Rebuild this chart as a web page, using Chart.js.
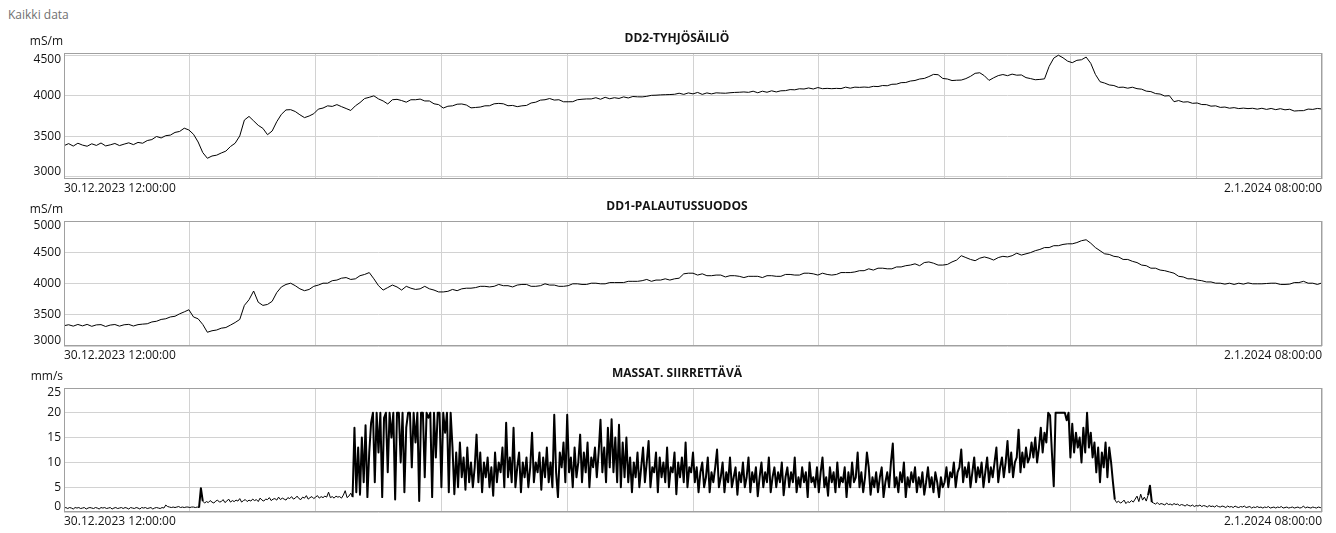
<!DOCTYPE html>
<html>
<head>
<meta charset="utf-8">
<script src="https://cdn.jsdelivr.net/npm/chart.js@4"></script>
<style>
  body { margin: 0; background: #fff; overflow: hidden; width: 1336px; height: 533px; }
  #caption { position: absolute; left: 8px; top: 6px; font: 12px "Open Sans", sans-serif; color: #707070; }
  .panel { position: absolute; left: 0; width: 1336px; }
</style>
</head>
<body>
<div id="caption">Kaikki data</div>
<div class="panel" id="p1" style="top:23px;height:176px"><canvas id="c1"></canvas></div>
<div class="panel" id="p2" style="top:191px;height:175px"><canvas id="c2"></canvas></div>
<div class="panel" id="p3" style="top:358px;height:174px"><canvas id="c3"></canvas></div>
<script>
// time axis: hours from 30.12.2023 12:00 to 2.1.2024 08:00
const xGrid = [0, 6.8, 13.6, 20.4, 27.2, 34, 40.8, 47.6, 54.4, 61.2, 68];
const xStartLabel = "30.12.2023 12:00:00";
const xEndLabel = "2.1.2024 08:00:00";

const ddStep = 0.25;   // hours between conductivity samples
const massStep = 0.1;  // hours between speed samples

const dd2Ticks = [3000, 3500, 4000, 4500];
const dd1Ticks = [3000, 3500, 4000, 4500, 5000];
const massTicks = [0, 5, 10, 15, 20, 25];

const dd2Values = [
  3385,3410,3380,3415,3392,3378,3408,3388,3418,3382,
  3395,3412,3386,3404,3420,3398,3425,3415,3448,3460,
  3498,3480,3508,3515,3548,3560,3600,3578,3525,3430,
  3300,3230,3258,3268,3295,3318,3375,3415,3505,3700,
  3745,3690,3635,3598,3520,3565,3680,3770,3825,3828,
  3805,3765,3730,3750,3778,3835,3848,3875,3868,3890,
  3865,3842,3818,3875,3915,3965,3980,3998,3960,3935,
  3898,3950,3955,3940,3920,3950,3950,3958,3935,3935,
  3900,3890,3848,3870,3875,3895,3898,3885,3850,3855,
  3860,3875,3876,3900,3905,3900,3876,3880,3865,3875,
  3880,3910,3920,3945,3950,3965,3946,3950,3925,3925,
  3926,3950,3956,3960,3960,3975,3956,3980,3962,3975,
  3966,3985,3972,3990,3986,3985,3992,4004,4006,4010,
  4012,4014,4017,4030,4016,4034,4022,4040,4016,4034,
  4022,4035,4032,4030,4036,4040,4042,4046,4041,4055,
  4036,4055,4042,4060,4046,4060,4062,4075,4072,4085,
  4082,4095,4082,4100,4086,4090,4086,4090,4087,4105,
  4092,4105,4102,4106,4102,4115,4112,4125,4122,4140,
  4142,4160,4162,4180,4187,4205,4212,4235,4262,4258,
  4212,4205,4186,4190,4192,4210,4238,4275,4282,4245,
  4188,4220,4247,4260,4246,4265,4252,4255,4222,4210,
  4196,4200,4207,4360,4462,4498,4466,4425,4406,4435,
  4442,4475,4398,4262,4172,4155,4132,4125,4102,4105,
  4092,4104,4086,4080,4056,4050,4026,4020,3996,4000,
  3926,3940,3921,3925,3906,3910,3891,3890,3871,3875,
  3856,3860,3846,3853,3841,3847,3841,3845,3834,3845,
  3831,3843,3828,3840,3826,3833,3811,3815,3816,3835,
  3831,3843,3836
];

const dd1Values = [
  3325,3340,3318,3345,3322,3346,3315,3338,3342,3312,
  3335,3344,3318,3340,3346,3320,3342,3350,3356,3385,
  3396,3425,3436,3465,3476,3515,3546,3580,3465,3435,
  3345,3220,3244,3256,3285,3296,3335,3376,3425,3650,
  3740,3880,3700,3650,3665,3715,3855,3945,3985,4005,
  3965,3915,3885,3905,3955,3975,4005,4005,4045,4055,
  4085,4095,4065,4075,4125,4145,4175,4075,3965,3895,
  3935,3975,3945,3895,3955,3925,3905,3915,3955,3915,
  3895,3865,3865,3875,3905,3885,3915,3925,3925,3935,
  3955,3955,3945,3955,3985,3965,3965,3945,3975,3985,
  3985,3955,3955,3965,3995,3975,3975,3955,3955,3965,
  3995,3995,3985,3985,4005,4005,3995,3995,4015,4015,
  4015,4015,4035,4035,4035,4045,4065,4035,4055,4055,
  4075,4055,4075,4085,4155,4165,4165,4135,4155,4125,
  4125,4135,4135,4105,4125,4125,4115,4095,4115,4115,
  4115,4095,4125,4125,4115,4115,4145,4145,4135,4135,
  4165,4165,4155,4135,4165,4145,4135,4145,4175,4175,
  4175,4185,4205,4205,4235,4215,4245,4245,4235,4235,
  4265,4265,4285,4295,4315,4285,4335,4345,4325,4295,
  4295,4305,4345,4375,4445,4415,4385,4365,4405,4425,
  4405,4375,4415,4435,4425,4445,4485,4455,4475,4495,
  4525,4545,4575,4575,4605,4605,4625,4635,4635,4655,
  4685,4700,4645,4575,4525,4475,4465,4435,4425,4385,
  4385,4355,4335,4295,4285,4245,4245,4215,4205,4185,
  4165,4115,4105,4075,4075,4055,4045,4025,4025,4005,
  4005,3990,4005,3985,4005,3990,4010,3995,3995,3995,
  4000,4005,4005,3985,3985,3990,4015,4015,4035,4005,
  4005,3985,4010
];

const massValues = [
  0.8,0.9,0.7,0.9,0.8,0.6,0.9,0.8,0.9,0.7,
  0.8,0.9,0.6,0.8,0.9,0.8,0.7,0.9,0.8,0.6,
  0.9,0.8,0.9,0.7,0.8,0.9,0.6,0.8,0.9,0.7,
  0.8,0.9,0.7,0.9,0.8,0.6,0.9,0.8,0.7,0.9,
  0.8,0.6,0.9,0.8,0.9,0.7,0.8,0.9,0.6,0.8,
  0.9,0.8,0.7,0.9,0.8,1.4,1.1,1.0,0.9,1.0,
  0.9,1.0,1.1,0.9,1.0,0.9,1.0,1.0,0.9,1.0,
  1.0,0.9,1.0,0.9,
  4.8,2.2,1.8,2.1,1.9,2.3,2.0,1.8,2.2,2.4,
  2.0,2.1,2.5,1.9,2.2,2.6,2.0,2.3,2.1,2.4,
  2.2,2.7,2.0,2.3,2.5,2.1,2.4,2.2,2.6,2.3,
  2.5,2.1,2.8,2.4,2.2,2.6,2.5,2.9,2.3,2.6,
  2.7,2.4,3.0,2.5,2.8,2.6,2.4,2.9,2.7,3.1,
  2.6,2.8,3.2,2.7,2.5,3.0,2.8,3.3,2.6,2.9,
  3.1,2.7,3.0,3.3,2.8,3.1,2.9,3.2,3.0,4.0,
  2.9,3.1,2.8,3.2,3.0,
  3.1,2.8,3.4,4.3,2.9,3.2,3.8,3.0,
  17,4,13,3.5,15,6,17.5,3,12,18,
  20,6,20,12,20,3,19,20,8,20,
  15,20,2.5,20,20,10,20,4,17,20,
  20,9,20,14,20,2.2,20,20,7,20,
  19,20,3,20,11,20,20,5,20,16,
  20,4,20,
  13,3.6,12,5,14,7,11,4.5,13,6,
  10,5,9,15.6,6,12,4,10,7,11,
  5,9,3.3,12,6,10,8,13,5,18,
  7,11,6,17,5,9,12,4,10,7,
  11,5,9,16,6,10,8,12,4.5,11,
  7,13,6,10,5,19.6,8,3,12,9,
  14,6,19.6,8,11,5,13,7,10,15.6,
  6,12,8,14,5,11,9,13,7,12,
  18.6,8,13,6,
  17,9,18.7,8,15,6,17.6,5,14,7,
  15,6,11,4,10,7,12,5,9,13,
  6,10,14.3,5,9,8,12,4,11,7,
  10,6,13,5,9,8,12,3.6,10,7,
  11,6,14,5,9,8,12,
  6,9,4,8,10,5,7,11,4,8,
  6,9,12.6,5,7,10,4,8,6,11,
  5,7,9,3.5,8,6,10,5,7,11,
  4,8,6,9,3.2,7,10,5,8,6,
  11,4,7,9,5,8,6,10,3.4,7,
  9,5,8,6,11,4,7,5,9,6,
  8,3,10,6,7,5,9,4,8,11,
  5,7,3.3,9,6,8,4,10,5,7,
  6,9,3,8,5,10,6,7,12,5,
  8,4,7,12,9,3.5,7,
  5,8,4,7,9,3,6,8,5,10,
  13.8,5,7,4,8,6,10,3,7,5,
  8,6,9,4,7,5,8,3.5,6,9,
  5,7,4,8,6,3,7,5,
  6,9,5,8,7,10,5,8,9,12.6,
  6,9,7,10,5,8,11,6,9,7,
  10,5,8,11,6,9,7,10,13,6,
  9,11,7,10,14.3,8,12,7,10,11,
  16.6,8,12,9,13,10,11,14,
  11,15,10,13,17,12,16,14,20,19.5,12,5.2,
  20,20,20,20,20,20,18.5,20,
  11,17.8,12,16,13,15,10,17,12,20,
  13,16,11,14,8,13,6,12,9,14,
  7,13,10,6,
  2.5,1.9,2.2,1.8,2.0,2.4,1.7,2.1,1.9,2.3,
  2.0,2.6,3.2,2.1,3.6,2.4,3.0,2.2,3.4,5.3,
  2.0,1.8,1.6,1.9,1.5,1.7,1.6,1.4,1.8,1.5,
  1.6,1.4,1.7,1.5,1.6,1.3,1.5,
  1.4,1.2,1.5,1.3,1.2,1.4,1.1,1.3,1.2,1.4,
  1.1,1.3,1.2,1.0,1.3,1.1,1.2,1.0,1.3,1.1,
  1.0,1.2,1.1,0.9,1.2,1.0,1.1,0.9,1.2,1.0,
  0.9,1.1,1.0,1.2,0.9,1.0,1.1,0.8,1.0,0.9,
  1.1,0.9,1.0,0.8,1.0,0.9,1.1,0.8,0.9,1.0,
  0.8,1.0,0.9,1.1,0.8,0.9,1.0,0.8,0.9,1.0,
  0.8,0.9,1.0,0.8,0.9,1.2,0.8,1.0,0.9,0.8,
  1.0,0.9,0.8,1.0,0.9,0.8
];

const FONT = '"Open Sans", sans-serif';
const GRID = '#d2d2d2';

// frame round the plot area, panel title and unit text
const panelDecor = {
  id: 'panelDecor',
  afterDraw(chart, args, opts) {
    const { ctx, chartArea: a } = chart;
    ctx.save();
    ctx.strokeStyle = '#a0a0a0';
    ctx.lineWidth = 1;
    ctx.strokeRect(a.left + 0.5, a.top + 0.5, a.width - 1, a.height - 1);
    ctx.fillStyle = '#141414';
    ctx.textBaseline = 'middle';
    ctx.font = 'bold 12px ' + FONT;
    ctx.textAlign = 'center';
    ctx.fillText(opts.title, 677, a.top - 14);
    ctx.font = '12px ' + FONT;
    ctx.textAlign = 'right';
    ctx.fillText(opts.unit, a.left - 1, a.top - 11);
    ctx.restore();
  }
};

function toPoints(values, step) {
  return values.map((v, i) => ({ x: i * step, y: v }));
}

// busy stretches of the speed trace are drawn a little heavier
const busyWidth = c => Math.max(c.p0.parsed.y, c.p1.parsed.y) > 4.5 ? 2 : 1;

function makePanel(id, title, unit, values, step, yMin, yMax, yTicks, segment) {
  return new Chart(document.getElementById(id), {
    type: 'line',
    data: {
      datasets: [{
        data: toPoints(values, step),
        borderColor: '#000',
        borderWidth: 1,
        borderJoinStyle: 'round',
        pointRadius: 0,
        tension: 0,
        segment: segment || {}
      }]
    },
    options: {
      responsive: true,
      maintainAspectRatio: false,
      animation: false,
      layout: { padding: { top: 30, right: 14, left: 0, bottom: 0 } },
      plugins: {
        legend: { display: false },
        tooltip: { enabled: false },
        panelDecor: { title: title, unit: unit }
      },
      scales: {
        x: {
          type: 'linear',
          min: 0,
          max: 68,
          afterBuildTicks: s => { s.ticks = xGrid.map(v => ({ value: v })); },
          afterFit: s => { s.height = 20; },
          grid: { color: GRID, drawTicks: false },
          border: { display: false },
          ticks: {
            autoSkip: false,
            maxRotation: 0,
            align: 'inner',
            padding: 2,
            color: '#141414',
            font: { family: FONT, size: 12 },
            callback: (v, i, t) => i === 0 ? xStartLabel : (i === t.length - 1 ? xEndLabel : '')
          }
        },
        y: {
          min: yMin,
          max: yMax,
          afterBuildTicks: s => { s.ticks = yTicks.map(v => ({ value: v })); },
          afterFit: s => { s.width = 64; },
          grid: { color: GRID, drawTicks: false },
          border: { display: false },
          ticks: {
            padding: 3,
            color: '#141414',
            font: { family: FONT, size: 12, lineHeight: '10px' },
            // keep the end labels inside the plot height
            callback: (v, i, t) => {
              if (i === 0) return [String(v), ''];
              if (i === t.length - 1) return ['', String(v)];
              return String(v);
            }
          }
        }
      }
    },
    plugins: [panelDecor]
  });
}

makePanel('c1', 'DD2-TYHJÖSÄILIÖ', 'mS/m', dd2Values, ddStep, 2975, 4525, dd2Ticks);
makePanel('c2', 'DD1-PALAUTUSSUODOS', 'mS/m', dd1Values, ddStep, 3000, 5000, dd1Ticks);
makePanel('c3', 'MASSAT. SIIRRETTÄVÄ', 'mm/s', massValues, massStep, 0, 25, massTicks, { borderWidth: busyWidth });
</script>
</body>
</html>
